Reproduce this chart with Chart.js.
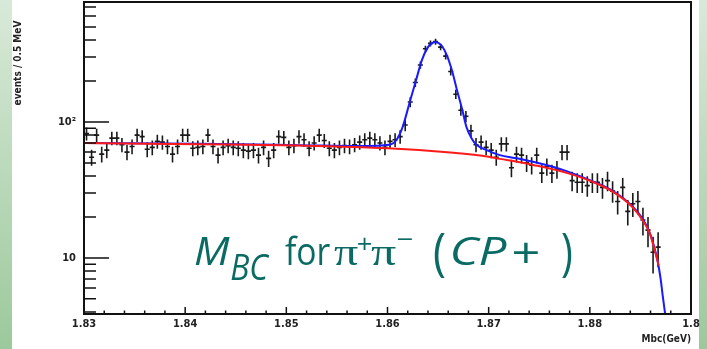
<!DOCTYPE html>
<html>
<head>
<meta charset="utf-8">
<script src="https://cdn.jsdelivr.net/npm/chart.js@4"></script>
<style>
  html, body { margin: 0; padding: 0; overflow: hidden; }
  body {
    width: 707px; height: 349px;
    background:
      linear-gradient(to right, transparent 12px, #fff 12px, #fff 699px, transparent 699px),
      linear-gradient(to bottom, #d9e9d9, #9cc99c);
  }
  canvas { display: block; }
</style>
</head>
<body>
<canvas id="myChart" width="707" height="349"></canvas>
<script>
// M_BC histogram, 0.5 MeV bins from 1.830 GeV
const binStart = 1.830;
const binWidth = 0.0005;
const counts = [
  82, 55, 80, 58, 62, 76, 76, 68, 60, 66,
  80, 78, 63, 65, 72, 71, 66, 58, 66, 80,
  80, 64, 65, 66, 80, 66, 57, 65, 67, 65,
  64, 62, 61, 62, 57, 65, 54, 62, 78, 77,
  65, 67, 78, 74, 64, 70, 80, 73, 64, 62,
  65, 67, 66, 68, 71, 74, 76, 74, 70, 65,
  72, 74, 78, 95, 140, 195, 262, 345, 378, 390,
  355, 305, 235, 160, 122, 110, 86, 68, 71, 65,
  62, 55, 69, 69, 46, 58, 57, 50, 48, 57,
  42, 47, 42, 45, 60, 60, 37, 36, 36, 34,
  36, 36, 33, 37, 31, 26, 33, 22, 25, 26,
  19, 16, 11, 12
];

// fit curves
const totalX = [1.8300, 1.8415, 1.8513, 1.8573, 1.8602, 1.8609, 1.8615, 1.8622, 1.8628, 1.8634,
  1.8640, 1.8643, 1.8647, 1.8651, 1.8654, 1.8659, 1.8664, 1.8669, 1.8674, 1.8678,
  1.8683, 1.8688, 1.8698, 1.8711, 1.8728, 1.8758, 1.8777, 1.8803, 1.8823, 1.8842,
  1.8852, 1.8859, 1.8864, 1.8867, 1.8870, 1.8872, 1.8875];
const totalY = [70, 69, 67.5, 66.5, 68, 74, 92, 140, 200, 285,
  355, 375, 387, 378, 360, 305, 235, 168, 122, 92,
  76, 68, 62, 57, 54, 48, 43.5, 36.5, 31, 24,
  19.5, 15.5, 11.8, 9.5, 7, 5.3, 3.6];
const bkgX = [1.8300, 1.8415, 1.8513, 1.8600, 1.8662, 1.8700, 1.8711, 1.8728, 1.8744, 1.8777,
  1.8803, 1.8823, 1.8842, 1.8852, 1.8859, 1.8864, 1.8868];
const bkgY = [70, 68.5, 67, 64, 59.5, 55.5, 53.5, 51, 48.3, 42.2,
  36.2, 30.6, 23.7, 19, 15.3, 11.5, 8.8];

const xTickValues = [1.83, 1.84, 1.85, 1.86, 1.87, 1.88, 1.89];
const xTickLabels = ['1.83', '1.84', '1.85', '1.86', '1.87', '1.88', '1.8'];
const yTickValues = [10, 100];
const yTickLabels = ['10', '10\u00b2'];
const yMin = 3.87, yMax = 762;

const axisFont = { family: "'DejaVu Sans Condensed', 'DejaVu Sans', sans-serif", size: 11, weight: 'bold' };

function xMinorTicks() {
  const out = [];
  for (let k = 0; k <= 30; k++) out.push(+(1.83 + 0.002 * k).toFixed(4));
  return out;
}
function yLogTicks() {
  const out = [];
  [1, 10, 100].forEach(d => {
    for (let m = 1; m <= 9; m++) {
      const v = m * d;
      if (v >= yMin && v <= yMax) out.push(v);
    }
  });
  return out;
}
function isMajor(list, v) {
  return list.findIndex(t => Math.abs(t - v) < 1e-6);
}

const points = counts.map((n, i) => ({ x: binStart + binWidth * (i + 0.5), y: n }));

// draw a piece of text so that its ink fills a given box
function boxText(ctx, text, font, x0, x1, y0, y1) {
  ctx.save();
  ctx.font = font;
  const m = ctx.measureText(text);
  const w = m.actualBoundingBoxLeft + m.actualBoundingBoxRight;
  const h = m.actualBoundingBoxAscent + m.actualBoundingBoxDescent;
  ctx.translate(x0, y0);
  ctx.scale((x1 - x0) / w, (y1 - y0) / h);
  ctx.fillText(text, m.actualBoundingBoxLeft, m.actualBoundingBoxAscent);
  ctx.restore();
}

const rootStyle = {
  id: 'rootStyle',
  beforeDatasetsDraw(chart) {
    const { ctx, chartArea: ca, scales: { x, y } } = chart;
    ctx.save();
    ctx.beginPath();
    ctx.rect(ca.left, ca.top, ca.right - ca.left, ca.bottom - ca.top);
    ctx.clip();
    ctx.strokeStyle = '#1a1a1a';
    ctx.lineWidth = 1.6;
    ctx.beginPath();
    points.forEach(p => {
      const e = Math.sqrt(p.y);
      const px = x.getPixelForValue(p.x);
      const py = y.getPixelForValue(p.y);
      ctx.moveTo(x.getPixelForValue(p.x - binWidth / 2), py);
      ctx.lineTo(x.getPixelForValue(p.x + binWidth / 2), py);
      ctx.moveTo(px, y.getPixelForValue(p.y + e));
      ctx.lineTo(px, y.getPixelForValue(Math.max(p.y - e, 1)));
    });
    ctx.stroke();
    ctx.restore();
  },
  afterDraw(chart) {
    const { ctx, chartArea: ca, scales: { x, y } } = chart;
    ctx.save();
    // ticks pointing inward
    ctx.strokeStyle = '#111';
    ctx.lineWidth = 1.5;
    ctx.beginPath();
    yLogTicks().forEach(v => {
      const py = y.getPixelForValue(v);
      const len = isMajor(yTickValues, v) >= 0 ? 25 : 12;
      ctx.moveTo(ca.left, py);
      ctx.lineTo(ca.left + len, py);
    });
    xMinorTicks().forEach(v => {
      const px = x.getPixelForValue(v);
      const len = isMajor(xTickValues, v) >= 0 ? 7 : 3.5;
      ctx.moveTo(px, ca.bottom);
      ctx.lineTo(px, ca.bottom - len);
    });
    ctx.stroke();
    // frame
    ctx.lineWidth = 2;
    ctx.strokeRect(ca.left, ca.top, ca.right - ca.left, ca.bottom - ca.top);

    // y axis title
    ctx.fillStyle = '#222';
    ctx.font = "bold 10px 'DejaVu Sans Condensed', 'DejaVu Sans', sans-serif";
    ctx.translate(18, 63);
    ctx.rotate(-Math.PI / 2);
    ctx.textAlign = 'center';
    ctx.textBaseline = 'middle';
    ctx.fillText('events / 0.5 MeV', 0, 0, 100);
    ctx.restore();

    // big label
    ctx.save();
    ctx.fillStyle = '#0b6b64';
    ctx.textBaseline = 'alphabetic';
    ctx.textAlign = 'left';
    const sans = "40px 'Open Sans', 'Noto Sans', sans-serif";
    const sansI = 'italic ' + sans;
    const serif = "40px 'Liberation Serif', 'DejaVu Serif', serif";
    boxText(ctx, 'M', sansI, 195, 230, 237, 265);
    boxText(ctx, 'BC', sansI, 231, 270, 253, 280);
    boxText(ctx, 'for', sans, 285, 330, 235, 265);
    boxText(ctx, '\u03c0', serif, 334, 358, 247, 265);
    boxText(ctx, '+', sans, 358, 371, 237, 250);
    boxText(ctx, '\u03c0', serif, 371, 396, 247, 265);
    boxText(ctx, '\u2212', sans, 398, 412, 238, 240.5);
    boxText(ctx, '(', sans, 434, 445, 233, 278);
    boxText(ctx, 'CP', sansI, 452, 507, 237, 265);
    boxText(ctx, '+', sans, 514, 538, 242, 263);
    boxText(ctx, ')', sans, 562, 572, 233, 278);
    ctx.restore();
  }
};

new Chart(document.getElementById('myChart'), {
  type: 'scatter',
  data: {
    datasets: [
      {
        label: 'background',
        data: bkgX.map((v, i) => ({ x: v, y: bkgY[i] })),
        showLine: true,
        borderColor: '#ff1a1a',
        borderWidth: 2,
        pointRadius: 0,
        cubicInterpolationMode: 'monotone',
        order: 0
      },
      {
        label: 'fit',
        data: totalX.map((v, i) => ({ x: v, y: totalY[i] })),
        showLine: true,
        borderColor: '#1a1aff',
        borderWidth: 2,
        pointRadius: 0,
        cubicInterpolationMode: 'monotone',
        order: 1
      },
      {
        label: 'data',
        data: points,
        showLine: false,
        pointRadius: 0,
        order: 2
      }
    ]
  },
  options: {
    responsive: false,
    maintainAspectRatio: false,
    animation: false,
    devicePixelRatio: 1,
    layout: { padding: { left: 0, top: 2, right: 16, bottom: 0 } },
    plugins: { legend: { display: false }, tooltip: { enabled: false } },
    scales: {
      x: {
        type: 'linear',
        min: 1.83,
        max: 1.89,
        afterBuildTicks: s => { s.ticks = xMinorTicks().map(v => ({ value: v })); },
        afterFit: s => { s.height = 35; s.paddingLeft = 0; s.paddingRight = 0; },
        grid: { display: false, drawTicks: false },
        border: { display: false },
        ticks: {
          autoSkip: false, maxRotation: 0, minRotation: 0, padding: 4,
          color: '#222', font: axisFont,
          callback: v => { const k = isMajor(xTickValues, v); return k >= 0 ? xTickLabels[k] : ''; }
        },
        title: {
          display: true, text: 'Mbc(GeV)', align: 'end', color: '#222',
          font: { family: axisFont.family, size: 10, weight: 'bold' },
          padding: { top: 0, bottom: 4 }
        }
      },
      y: {
        type: 'logarithmic',
        min: yMin,
        max: yMax,
        afterBuildTicks: s => { s.ticks = yLogTicks().map(v => ({ value: v })); },
        afterFit: s => { s.width = 84; s.paddingTop = 0; s.paddingBottom = 0; },
        grid: { display: false, drawTicks: false },
        border: { display: false },
        ticks: {
          autoSkip: false, padding: 8, color: '#222', font: axisFont,
          callback: v => { const k = isMajor(yTickValues, v); return k >= 0 ? yTickLabels[k] : ''; }
        }
      }
    }
  },
  plugins: [rootStyle]
});
</script>
</body>
</html>
